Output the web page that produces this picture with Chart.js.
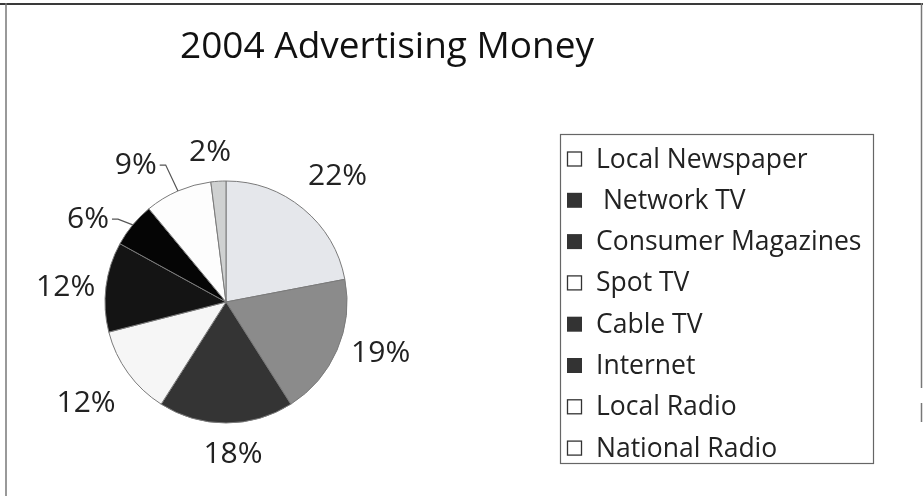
<!DOCTYPE html>
<html><head><meta charset="utf-8">
<script src="https://cdn.jsdelivr.net/npm/chart.js@4.4.0/dist/chart.umd.min.js"></script>
<style>html,body{margin:0;padding:0;background:#fff;overflow:hidden}#wrap{position:relative;width:923px;height:496px}canvas{display:block}</style>
</head><body><div id="wrap"><canvas id="c" width="923" height="496"></canvas></div>
<script>
// ---- data ----
const categories = ["Local Newspaper", " Network TV", "Consumer Magazines", "Spot TV", "Cable TV", "Internet", "Local Radio", "National Radio"];
const shares = [22, 19, 18, 12, 12, 6, 9, 2];
const valueLabels = ["22%", "19%", "18%", "12%", "12%", "6%", "9%", "2%"];
const titleText = "2004 Advertising Money";

// ---- styles ----
const sliceColors = ["#e5e7eb", "#8b8b8b", "#343434", "#f6f6f6", "#141414", "#050505", "#fdfdfd", "#cfd1d1"];
const swatchFilled = [false, true, true, false, true, true, false, false];
// label placement tweaks: [angle shift (deg), distance from centre]
const labelNudge = [[2, 168], [-5, 163], [-2.6, 153], [0, 173], [-2, 161], [-8.6, 161], [-10, 164], [-2.5, 150]];
const leaderFor = [5, 6];
const FONT = "'Open Sans', 'Noto Sans', sans-serif";

const decor = {
  id: 'decor',
  afterDraw(chart) {
    const ctx = chart.ctx;
    ctx.save();
    // frame
    ctx.strokeStyle = '#3a3a3a'; ctx.lineWidth = 2;
    ctx.beginPath(); ctx.moveTo(0, 4); ctx.lineTo(923, 4); ctx.stroke();
    ctx.strokeStyle = '#777'; ctx.lineWidth = 1.5;
    ctx.beginPath(); ctx.moveTo(6, 3); ctx.lineTo(6, 496); ctx.stroke();
    ctx.beginPath(); ctx.moveTo(921.5, 3); ctx.lineTo(921.5, 388); ctx.moveTo(921.5, 403); ctx.lineTo(921.5, 422); ctx.stroke();
    // title
    ctx.fillStyle = '#111';
    ctx.font = '37px ' + FONT;
    ctx.textAlign = 'left'; ctx.textBaseline = 'alphabetic';
    ctx.fillText(titleText, 180, 58);
    // value labels
    const meta = chart.getDatasetMeta(0);
    ctx.font = '30px ' + FONT;
    ctx.fillStyle = '#222';
    ctx.textAlign = 'center'; ctx.textBaseline = 'middle';
    meta.data.forEach((arc, i) => {
      const mid = (arc.startAngle + arc.endAngle) / 2;
      const a = mid + labelNudge[i][0] * Math.PI / 180;
      const d = labelNudge[i][1];
      const x = arc.x + Math.cos(a) * d, y = arc.y + Math.sin(a) * d;
      ctx.fillText(valueLabels[i], x, y);
      if (leaderFor.includes(i)) {
        const ex = arc.x + Math.cos(mid) * arc.outerRadius, ey = arc.y + Math.sin(mid) * arc.outerRadius;
        const w = ctx.measureText(valueLabels[i]).width;
        ctx.save();
        ctx.strokeStyle = '#555'; ctx.lineWidth = 1.2;
        ctx.beginPath();
        const sx = x + w / 2 + 3;
        ctx.moveTo(sx, y);
        ctx.lineTo(sx + 6, y);
        ctx.lineTo(ex, ey);
        ctx.stroke();
        ctx.restore();
      }
    });
    // legend box
    ctx.strokeStyle = '#666'; ctx.lineWidth = 1.2;
    ctx.strokeRect(560.5, 134.5, 313, 329);
    ctx.font = '26.5px ' + FONT;
    ctx.textAlign = 'left'; ctx.textBaseline = 'middle';
    categories.forEach((c, i) => {
      const cy = 159 + i * 41.3;
      if (swatchFilled[i]) {
        ctx.fillStyle = '#333';
        ctx.fillRect(567, cy - 7.5, 15, 15);
      } else {
        ctx.fillStyle = '#fff';
        ctx.fillRect(567, cy - 7.5, 15, 15);
        ctx.strokeStyle = '#333'; ctx.lineWidth = 1.3;
        ctx.strokeRect(567.5, cy - 7, 14, 14);
      }
      ctx.fillStyle = '#222';
      ctx.fillText(c, 596, cy + 1);
    });
    ctx.restore();
  }
};

new Chart(document.getElementById('c'), {
  type: 'pie',
  data: {
    labels: categories,
    datasets: [{
      data: shares,
      backgroundColor: sliceColors,
      borderColor: '#7a7a7a',
      borderWidth: 1
    }]
  },
  options: {
    responsive: false,
    animation: false,
    radius: 121,
    layout: { padding: { left: 105, right: 576, top: 181, bottom: 73 } },
    plugins: { legend: { display: false }, title: { display: false }, tooltip: { enabled: false } }
  },
  plugins: [decor]
});
</script>
</body></html>
